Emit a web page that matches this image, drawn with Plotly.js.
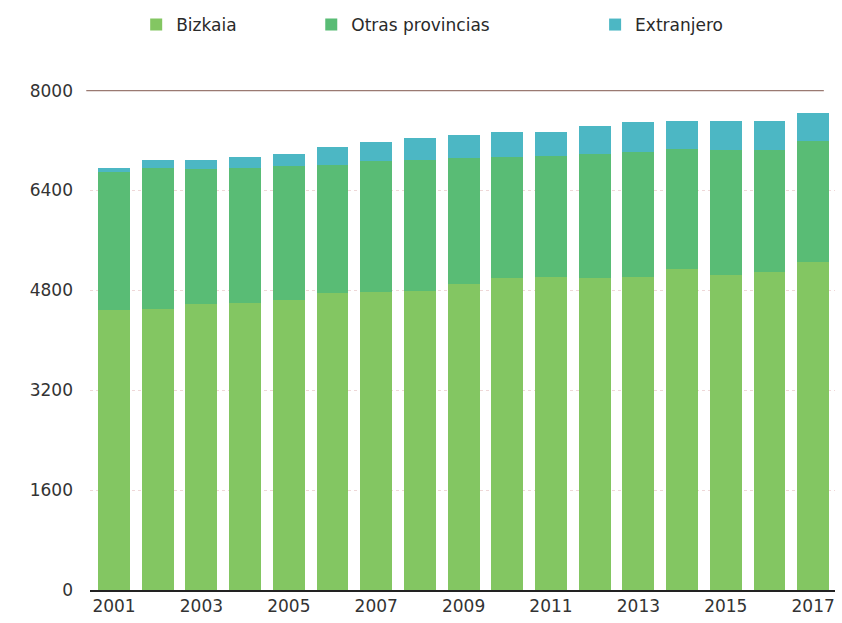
<!DOCTYPE html>
<html>
<head>
<meta charset="utf-8">
<script src="https://cdn.plot.ly/plotly-3.0.1.min.js"></script>
<style>html,body{margin:0;padding:0;background:#fff;}#chart{width:842px;height:623px;}</style>
</head>
<body>
<div id="chart"></div>
<script>
const years = [2001,2002,2003,2004,2005,2006,2007,2008,2009,2010,2011,2012,2013,2014,2015,2016,2017];
const bizkaia = [4480,4500,4580,4600,4650,4760,4780,4790,4900,5000,5020,5000,5020,5150,5050,5100,5260];
const otrasProvincias = [2210,2260,2170,2160,2140,2050,2100,2095,2025,1935,1930,1990,1990,1910,2000,1950,1935];
const extranjero = [70,130,140,170,200,280,290,350,370,410,390,450,480,460,470,470,440];
const tickYears = [2001,2003,2005,2007,2009,2011,2013,2015,2017];
const yTicks = [0,1600,3200,4800,6400,8000];

const fontFam = '"DejaVu Sans", "Open Sans", sans-serif';
const traces = [
  {type:'bar', name:'Bizkaia', x:years, y:bizkaia, marker:{color:'#83c662'}, legend:'legend'},
  {type:'bar', name:'Otras provincias', x:years, y:otrasProvincias, marker:{color:'#59bc75'}, legend:'legend2'},
  {type:'bar', name:'Extranjero', x:years, y:extranjero, marker:{color:'#4cb7c4'}, legend:'legend3'}
];
const legFont = {family:fontFam, size:17, color:'#2a2a2a'};
const layout = {
  width:842, height:623,
  margin:{l:90, r:7, t:86, b:33},
  paper_bgcolor:'#fff', plot_bgcolor:'#fff',
  barmode:'stack', bargap:0.27,
  font:{family:fontFam, size:16, color:'#333'},
  showlegend:true,
  legend:{x:0.062, y:1.13, xanchor:'left', yanchor:'middle', orientation:'h', font:legFont, bgcolor:'rgba(0,0,0,0)'},
  legend2:{x:0.297, y:1.13, xanchor:'left', yanchor:'middle', orientation:'h', font:legFont, bgcolor:'rgba(0,0,0,0)'},
  legend3:{x:0.678, y:1.13, xanchor:'left', yanchor:'middle', orientation:'h', font:legFont, bgcolor:'rgba(0,0,0,0)'},
  xaxis:{
    range:[2000.45, 2017.5], tickvals:tickYears, ticktext:tickYears.map(String),
    showgrid:false, zeroline:false, showline:true, linecolor:'#222', linewidth:2,
    ticks:'', tickfont:{family:fontFam, size:17, color:'#333'}
  },
  yaxis:{
    range:[0, 8010], tickvals:yTicks, ticktext:yTicks.map(String),
    showgrid:true, gridcolor:'rgba(205,140,140,0.35)', gridwidth:1, griddash:'dot',
    zeroline:false, showline:false, ticks:'', ticklabelstandoff:16,
    tickfont:{family:fontFam, size:17, color:'#333'}
  },
  shapes:[
    {type:'line', xref:'paper', x0:-0.005, x1:0.985, yref:'y', y0:8000, y1:8000, line:{color:'#9a7a72', width:1.2}, layer:'below'}
  ]
};
Plotly.newPlot('chart', traces, layout, {displayModeBar:false, staticPlot:true});
</script>
</body>
</html>
